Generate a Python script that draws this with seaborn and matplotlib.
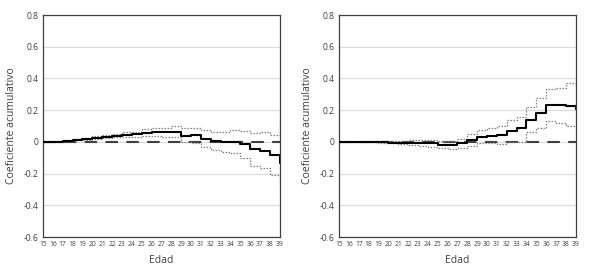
import numpy as np
import pandas as pd
import matplotlib
matplotlib.use("Agg")
import matplotlib.pyplot as plt
import seaborn as sns

# Edad (age) steps
edad = list(range(15, 40))

# Left panel: cumulative coefficient and confidence band
izq_coef = [0.0, 0.002, 0.008, 0.015, 0.018, 0.027, 0.033, 0.038, 0.045, 0.05,
            0.058, 0.06, 0.062, 0.065, 0.04, 0.045, 0.02, 0.005, 0.0, -0.002,
            -0.015, -0.045, -0.055, -0.082, -0.13]
izq_sup = [0.0, 0.003, 0.01, 0.02, 0.025, 0.035, 0.042, 0.05, 0.06, 0.065,
           0.08, 0.085, 0.09, 0.1, 0.085, 0.09, 0.075, 0.065, 0.065, 0.075,
           0.07, 0.055, 0.06, 0.045, 0.16]
izq_inf = [0.0, 0.0, 0.005, 0.01, 0.012, 0.02, 0.024, 0.028, 0.03, 0.033,
           0.037, 0.035, 0.032, 0.03, 0.0, -0.005, -0.03, -0.05, -0.065, -0.07,
           -0.1, -0.15, -0.165, -0.21, -0.27]

# Right panel
der_coef = [0.0, 0.0, -0.001, -0.002, -0.003, -0.005, -0.005, -0.005, -0.008, -0.01,
            -0.02, -0.02, -0.01, 0.01, 0.03, 0.04, 0.045, 0.07, 0.085, 0.14,
            0.185, 0.235, 0.23, 0.225, 0.21]
der_sup = [0.0, 0.0, 0.001, 0.002, 0.003, 0.005, 0.008, 0.012, 0.01, 0.01,
           0.005, 0.008, 0.02, 0.05, 0.075, 0.09, 0.1, 0.14, 0.16, 0.22,
           0.275, 0.335, 0.34, 0.37, 0.35]
der_inf = [0.0, 0.0, -0.002, -0.003, -0.005, -0.01, -0.015, -0.02, -0.025, -0.035,
           -0.04, -0.045, -0.04, -0.025, -0.01, -0.01, -0.015, 0.0, 0.0, 0.06,
           0.09, 0.13, 0.12, 0.1, 0.07]

sns.set_style("white")
plt.rcParams['font.family'] = ['Open Sans', 'DejaVu Sans']

fig = plt.figure(figsize=(5.89, 2.74), dpi=100)
ax1 = fig.add_axes([0.073, 0.135, 0.402, 0.81])
ax2 = fig.add_axes([0.5756, 0.135, 0.402, 0.81])

paneles = [(ax1, izq_coef, izq_sup, izq_inf), (ax2, der_coef, der_sup, der_inf)]

for ax, coef, sup, inf in paneles:
    df = pd.DataFrame({"edad": edad, "coef": coef, "sup": sup, "inf": inf})
    ax.yaxis.grid(True, color="#d9d9d9", linewidth=0.8)
    ax.set_axisbelow(True)
    ax.axhline(0, color="#404040", linewidth=1.5, linestyle=(0, (6, 4)), zorder=2)
    for col in ["sup", "inf"]:
        sns.lineplot(data=df, x="edad", y=col, ax=ax, color="#7f7f7f",
                     linewidth=0.9, linestyle=(0, (1.2, 1.2)), drawstyle="steps-post", zorder=3)
    sns.lineplot(data=df, x="edad", y="coef", ax=ax, color="black",
                 linewidth=1.5, drawstyle="steps-post", zorder=4)
    ax.set_xlim(15, 39)
    ax.set_ylim(-0.6, 0.8)
    ax.set_xticks(edad)
    ax.set_xticklabels([str(e) for e in edad], fontsize=4.9, color="#404040")
    yt = [-0.6, -0.4, -0.2, 0, 0.2, 0.4, 0.6, 0.8]
    ax.set_yticks(yt)
    ax.set_yticklabels(["-0.6", "-0.4", "-0.2", "0", "0.2", "0.4", "0.6", "0.8"],
                       fontsize=6.2, color="#404040")
    ax.tick_params(axis="both", length=0, pad=3)
    ax.set_xlabel("Edad", fontsize=7.5, color="#404040", labelpad=5)
    ax.set_ylabel("Coeficiente acumulativo", fontsize=7.5, color="#404040", labelpad=5)
    for s in ax.spines.values():
        s.set_color("#404040")
        s.set_linewidth(0.9)
        s.set_visible(True)

fig.savefig("out.png", dpi=100)
